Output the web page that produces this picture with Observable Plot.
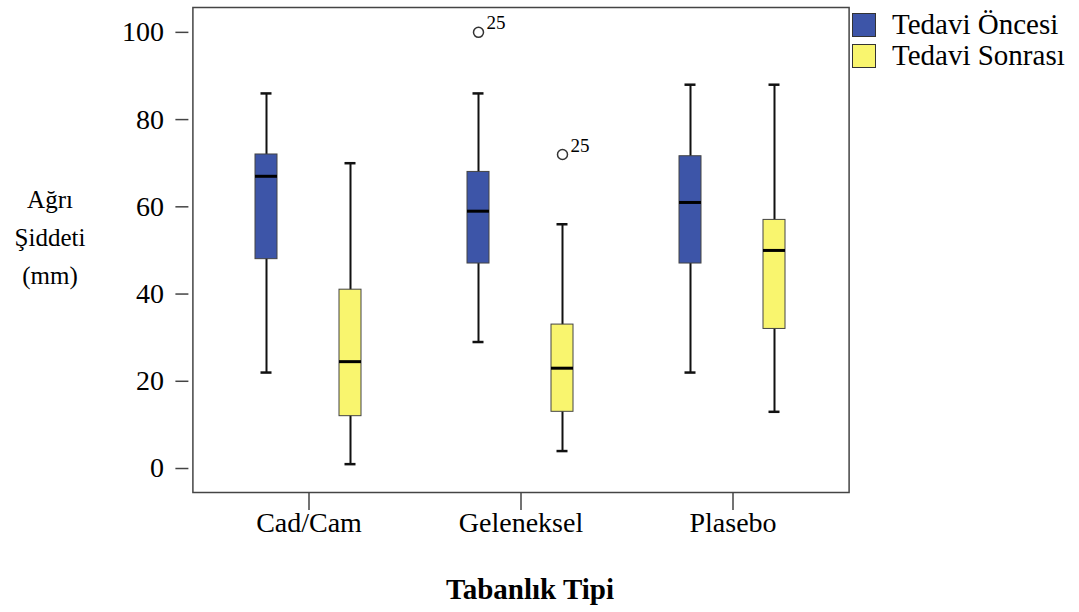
<!DOCTYPE html>
<html>
<head>
<meta charset="utf-8">
<script src="https://cdn.jsdelivr.net/npm/d3@7"></script>
<script src="https://cdn.jsdelivr.net/npm/@observablehq/plot@0.6"></script>
<style>
  html, body { margin: 0; padding: 0; background: #fff; }
  #wrap { position: relative; width: 1079px; height: 612px; font-family: "Liberation Serif", "Times New Roman", serif; color: #000; }
  #chart { position: absolute; left: 0; top: 0; }
  .ytitle { position: absolute; left: 0; width: 100px; text-align: center; font-size: 25px; line-height: 38px; top: 181px; }
  .xtitle { position: absolute; left: 400px; width: 260px; text-align: center; font-size: 29px; font-weight: bold; top: 573px; }
  .legend { position: absolute; left: 852px; top: 9px; }
  .legend .row { display: flex; align-items: center; height: 31px; }
  .legend .sw { width: 22px; height: 22px; border: 1.5px solid #333; margin-right: 16px; }
  .legend .lab { font-size: 29px; line-height: 29px; }
</style>
</head>
<body>
<div id="wrap">
  <div id="chart"></div>
  <div class="ytitle">Ağrı<br>Şiddeti<br>(mm)</div>
  <div class="xtitle">Tabanlık Tipi</div>
  <div class="legend" id="legend"></div>
</div>
<script>
// ---- data ----
const categories = ["Cad/Cam", "Geleneksel", "Plasebo"];
const treatments = ["Tedavi Öncesi", "Tedavi Sonrası"];
const colors = ["#3d55a8", "#f9f56e"];
const yTicks = [0, 20, 40, 60, 80, 100];

// per category: [Öncesi, Sonrası]
const whiskerLow  = [[22, 1],  [29, 4],  [22, 13]];
const q1          = [[48, 12], [47, 13], [47, 32]];
const median      = [[67, 24.5], [59, 23], [61, 50]];
const q3          = [[72, 41], [68, 33], [71.6, 57]];
const whiskerHigh = [[86, 70], [86, 56], [88, 88]];

// outliers
const outlierCat = ["Geleneksel", "Geleneksel"];
const outlierTrt = ["Tedavi Öncesi", "Tedavi Sonrası"];
const outlierVal = [100, 72];
const outlierLab = ["25", "25"];

// ---- tables built from the arrays ----
const boxes = [];
categories.forEach((c, i) => treatments.forEach((t, j) => boxes.push({
  cat: c, trt: t, lo: whiskerLow[i][j], q1: q1[i][j], med: median[i][j], q3: q3[i][j], hi: whiskerHigh[i][j]
})));
const outliers = outlierVal.map((v, i) => ({cat: outlierCat[i], trt: outlierTrt[i], v, label: outlierLab[i]}));

const chart = Plot.plot({
  width: 1079,
  height: 612,
  marginLeft: 192,
  marginRight: 231,
  marginTop: 7,
  marginBottom: 120,
  style: {fontFamily: "Liberation Serif, Times New Roman, serif", background: "#fff", color: "#000"},
  fx: {domain: categories, paddingInner: 0.1, paddingOuter: 0.097, label: null},
  x: {domain: treatments, paddingInner: 0.738, paddingOuter: 0.505, axis: null},
  y: {domain: [-5.5, 105.7], label: null},
  color: {domain: treatments, range: colors},
  marks: [
    Plot.frame({facet: "super", stroke: "#444", strokeWidth: 1.5, insetLeft: -20.6, insetRight: -20.6}),
    Plot.axisY({ticks: yTicks, tickSize: 13, tickPadding: 12, dx: -24.6, fontSize: 28, stroke: "#444", strokeWidth: 1.5, label: null}),
    Plot.axisFx({anchor: "bottom", tickSize: 18, tickPadding: 2, fontSize: 28, stroke: "#444", strokeWidth: 1.5, label: null}),
    // whiskers
    Plot.ruleX(boxes, {fx: "cat", x: "trt", y1: "lo", y2: "hi", stroke: "#111", strokeWidth: 2}),
    // caps
    Plot.tickY(boxes, {fx: "cat", x: "trt", y: "lo", stroke: "#111", strokeWidth: 2.5, insetLeft: 5.5, insetRight: 5.5}),
    Plot.tickY(boxes, {fx: "cat", x: "trt", y: "hi", stroke: "#111", strokeWidth: 2.5, insetLeft: 5.5, insetRight: 5.5}),
    // boxes
    Plot.barY(boxes, {fx: "cat", x: "trt", y1: "q1", y2: "q3", fill: "trt", stroke: "#444", strokeWidth: 1}),
    // medians
    Plot.tickY(boxes, {fx: "cat", x: "trt", y: "med", stroke: "#000", strokeWidth: 3}),
    // outliers
    Plot.dot(outliers, {fx: "cat", x: "trt", y: "v", r: 5, stroke: "#333", strokeWidth: 1.5, fill: "none"}),
    Plot.text(outliers, {fx: "cat", x: "trt", y: "v", text: "label", textAnchor: "start", dx: 8, dy: -9, fontSize: 19, fill: "#000"})
  ]
});
document.getElementById("chart").appendChild(chart);

// legend from the same arrays
const leg = document.getElementById("legend");
treatments.forEach((t, i) => {
  const row = document.createElement("div");
  row.className = "row";
  const sw = document.createElement("div");
  sw.className = "sw";
  sw.style.background = colors[i];
  const lab = document.createElement("div");
  lab.className = "lab";
  lab.textContent = t;
  row.appendChild(sw); row.appendChild(lab);
  leg.appendChild(row);
});
</script>
</body>
</html>
